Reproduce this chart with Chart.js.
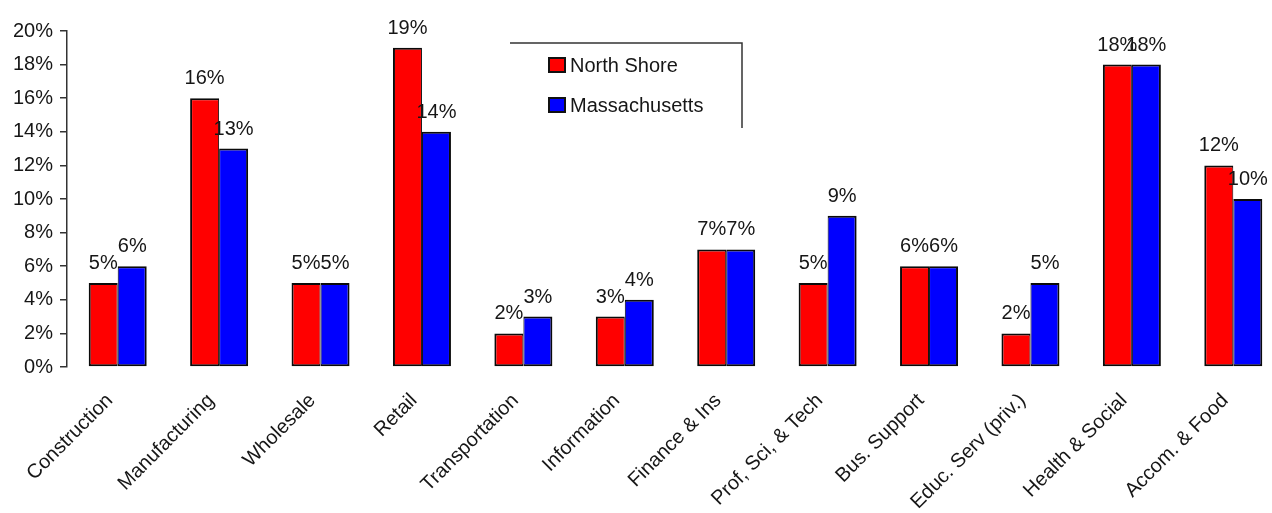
<!DOCTYPE html>
<html>
<head>
<meta charset="utf-8">
<script src="https://cdn.jsdelivr.net/npm/chart.js@4/dist/chart.umd.min.js"></script>
<style>
  html, body { margin: 0; padding: 0; background: #fff; overflow: hidden; width: 1272px; height: 513px; }
  #wrap { width: 1290px; height: 513px; }
  canvas { display: block; }
</style>
</head>
<body>
<div id="wrap"><canvas id="c" width="1290" height="513"></canvas></div>
<script>
const categories = ["Construction", "Manufacturing", "Wholesale", "Retail", "Transportation", "Information", "Finance & Ins", "Prof, Sci, & Tech", "Bus. Support", "Educ. Serv (priv.)", "Health & Social", "Accom. & Food"];
const northShore = [5, 16, 5, 19, 2, 3, 7, 5, 6, 2, 18, 12];
const massachusetts = [6, 13, 5, 14, 3, 4, 7, 9, 6, 5, 18, 10];
const seriesNames = ["North Shore", "Massachusetts"];
const yTicks = [0, 2, 4, 6, 8, 10, 12, 14, 16, 18, 20];

const FONT = "'Liberation Sans', Arial, sans-serif";
const TEXT = "#161616";

const valueLabels = {
  id: 'valueLabels',
  afterDatasetsDraw(chart) {
    const ctx = chart.ctx;
    ctx.save();
    ctx.font = "20px " + FONT;
    ctx.fillStyle = TEXT;
    ctx.textAlign = 'center';
    ctx.textBaseline = 'alphabetic';
    chart.data.datasets.forEach((ds, di) => {
      const meta = chart.getDatasetMeta(di);
      meta.data.forEach((bar, i) => {
        ctx.fillText(ds.data[i] + '%', bar.x, bar.y - 14);
      });
    });
    ctx.restore();
  }
};

const boxLegend = {
  id: 'boxLegend',
  afterDraw(chart) {
    const ctx = chart.ctx;
    ctx.save();
    ctx.strokeStyle = '#333';
    ctx.lineWidth = 1.5;
    ctx.beginPath();
    ctx.moveTo(510, 43);
    ctx.lineTo(742, 43);
    ctx.lineTo(742, 128);
    ctx.stroke();
    const rows = [65, 105];
    chart.data.datasets.forEach((ds, di) => {
      const y = rows[di];
      ctx.fillStyle = ds.backgroundColor;
      ctx.fillRect(549, y - 7, 16, 14);
      ctx.strokeStyle = '#111';
      ctx.lineWidth = 2;
      ctx.strokeRect(549, y - 7, 16, 14);
      ctx.fillStyle = TEXT;
      ctx.font = "20px " + FONT;
      ctx.textAlign = 'left';
      ctx.textBaseline = 'middle';
      ctx.fillText(ds.label, 570, y + 1);
    });
    ctx.restore();
  }
};

new Chart(document.getElementById('c'), {
  type: 'bar',
  data: {
    labels: categories,
    datasets: [
      {
        label: seriesNames[0],
        data: northShore,
        backgroundColor: '#ff0000',
        borderColor: '#0a0a0a',
        borderWidth: { top: 2, left: 2, bottom: 2, right: 1 },
        borderSkipped: false
      },
      {
        label: seriesNames[1],
        data: massachusetts,
        backgroundColor: '#0000ff',
        borderColor: '#0a0a0a',
        borderWidth: { top: 2, left: 1, bottom: 2, right: 2 },
        borderSkipped: false
      }
    ]
  },
  options: {
    responsive: false,
    animation: false,
    devicePixelRatio: 1,
    layout: { padding: { top: 31, right: 6, bottom: 0, left: 0 } },
    datasets: { bar: { categoryPercentage: 0.572, barPercentage: 1 } },
    plugins: { legend: { display: false }, tooltip: { enabled: false } },
    scales: {
      x: {
        grid: { display: false, drawTicks: false },
        border: { display: false },
        ticks: {
          minRotation: 45, maxRotation: 45, autoSkip: false,
          padding: 22,
          labelOffset: -8,
          color: TEXT,
          font: { family: FONT, size: 20 }
        },
        afterFit(scale) { scale.height = 146; }
      },
      y: {
        min: 0, max: 20,
        afterBuildTicks(scale) { scale.ticks = yTicks.map(v => ({ value: v })); },
        grid: { drawOnChartArea: false, drawTicks: true, tickLength: 7, color: '#333', lineWidth: 1.5 },
        border: { display: true, color: '#333', width: 1.5 },
        ticks: {
          padding: 7,
          color: TEXT,
          font: { family: FONT, size: 20 },
          callback: (v) => v + '%'
        },
        afterFit(scale) { scale.width = 67; }
      }
    }
  },
  plugins: [valueLabels, boxLegend]
});
</script>
</body>
</html>
